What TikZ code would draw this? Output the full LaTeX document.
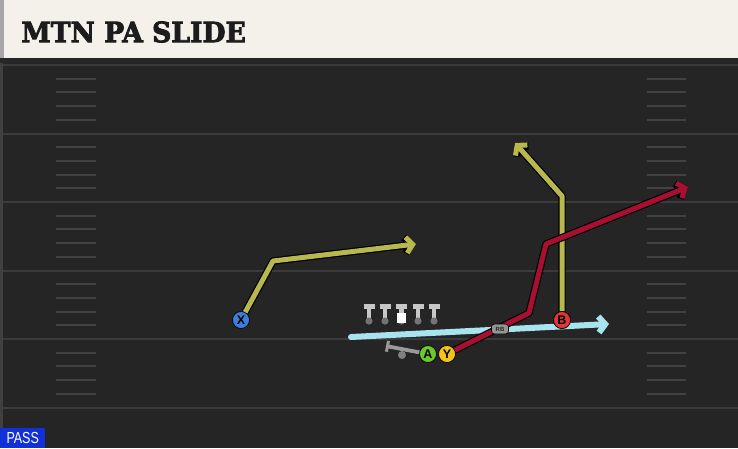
\documentclass[tikz,border=0pt]{standalone}
\usepackage{fontspec}
\usepackage{tikz}
\usetikzlibrary{arrows.meta}
\usetikzlibrary{positioning}
\newfontfamily\titlefont{DejaVu Serif Bold}[FakeBold=3]
\newfontfamily\labelfont{Liberation Sans}
\definecolor{field}{HTML}{252525}
\definecolor{yardline}{HTML}{3B3B3B}
\definecolor{hashmark}{HTML}{424242}
\definecolor{titlebg}{HTML}{F3F1EA}
\definecolor{titleink}{HTML}{1C1C1C}
\definecolor{routeyellow}{HTML}{B9B84E}
\definecolor{routered}{HTML}{A80F31}
\definecolor{routecyan}{HTML}{A8E3F0}
\definecolor{xblue}{HTML}{3D7ED8}
\definecolor{bred}{HTML}{E0363A}
\definecolor{agreen}{HTML}{6CC62E}
\definecolor{yyellow}{HTML}{F2C21E}
\definecolor{passblue}{HTML}{1230D8}
\tikzset{route/.style = {line width=5pt, line join=round, -{Straight Barb[length=6.5pt,width=16pt]},
  preaction={draw=black, line width=7.4pt, line join=round, -{Straight Barb[length=6.5pt,width=16pt]}}}}
\tikzset{player/.style = {circle, draw=black, line width=0.7pt, minimum size=17pt, inner sep=0pt, font=\labelfont\bfseries\fontsize{12.5}{12.5}\selectfont}}
\tikzset{rbtag/.style = {rounded corners=3pt, draw=black, line width=0.6pt, fill=black!42, minimum width=17pt, minimum height=10pt, inner sep=0pt, font=\labelfont\bfseries\fontsize{6}{6}\selectfont, text=black!85}}
\tikzset{lineman/.style = {draw=black!22, line width=4.5pt}}
\tikzset{yard/.style = {draw=yardline, line width=2pt}}
\tikzset{hash/.style = {draw=hashmark, line width=2pt}}

\begin{document}
\begin{tikzpicture}[x=1pt,y=-1pt]
        \useasboundingbox (0,0) rectangle (738,448);
        % title bar
        \fill [titlebg] (0,0) rectangle (738,58);
        \fill [black!35] (0,0) rectangle (4,58);
        \node [anchor=west, text=titleink, font=\titlefont\fontsize{28}{28}\selectfont, xscale=0.95] (title) at (18,32) {MTN PA SLIDE};
        % field
        \fill [field] (0,58) rectangle (738,448);
        \fill [black!85] (0,58) rectangle (738,63);
        \fill [black!75] (0,63) rectangle (3,448);
        \foreach \y in {65,133.5,202,270.5,339,407.5}
            \draw [yard] (3,\y) -- (738,\y);
        \foreach \y in {65,133.5,202,270.5,339}
            \foreach \k in {1,...,4} {
                \draw [hash] (56,\y+13.7*\k) -- (96,\y+13.7*\k);
                \draw [hash] (647,\y+13.7*\k) -- (686,\y+13.7*\k);
            }
        % line
        \foreach \x in {369,385,401.5,418,434} {
            \draw [lineman] (\x,306) -- (\x,319);
            \draw [lineman] (\x-5.5,306.5) -- (\x+5.5,306.5);
            \fill [black!55] (\x,321) circle [radius=3.6];
        }
        \fill [white] (397,313) rectangle (406,323);
        % players
        \node [player, fill=xblue] (X) at (241,320) {X};
        \node [circle, fill=black!50, minimum size=8pt, inner sep=0pt] (QB) at (402,355) {};
        \coordinate (blockend) at (386,346);
        \coordinate (motionstart) at (351,337);
        \coordinate (motionend) at (609,324);
        \coordinate (xbreak) at (273,261);
        \coordinate (xend) at (416,244);
        \coordinate (bbreak) at (562,196);
        \coordinate (bend) at (515,143);
        \coordinate (ybreak1) at (529,313);
        \coordinate (ybreak2) at (546,244);
        \coordinate (yend) at (688,187);
        % routes
        \draw [routecyan, line width=6pt, line cap=round, -{Straight Barb[length=6.5pt,width=16pt]}] (motionstart) -- (motionend);
        \draw [route, routeyellow] (X) -- (xbreak) -- (xend);
        \node [player, fill=bred] (B) at (562,320) {B};
        \draw [route, routeyellow] (B) -- (bbreak) -- (bend);
        \node [player, fill=agreen] (A) at (428,354) {A};
        \node [player, fill=yyellow] (Y) at (447,354) {Y};
        \draw [route, routered] (Y) -- (ybreak1) -- (ybreak2) -- (yend);
        \draw [black!40, line width=3.8pt, -{Bar[width=11pt,line width=3pt]}] (A) -- (blockend);
        \node [rbtag] (RB) at (500,329) {RB};
        \node [player, fill=bred] at (B) {B};
        % play type
        \node [anchor=south west, fill=passblue, text=white, minimum width=45pt, minimum height=20pt, inner sep=0pt] (pass) at (0,448) {\labelfont\fontsize{16}{16}\selectfont\scalebox{0.78}[1]{PASS}};
    \end{tikzpicture}
\end{document}
